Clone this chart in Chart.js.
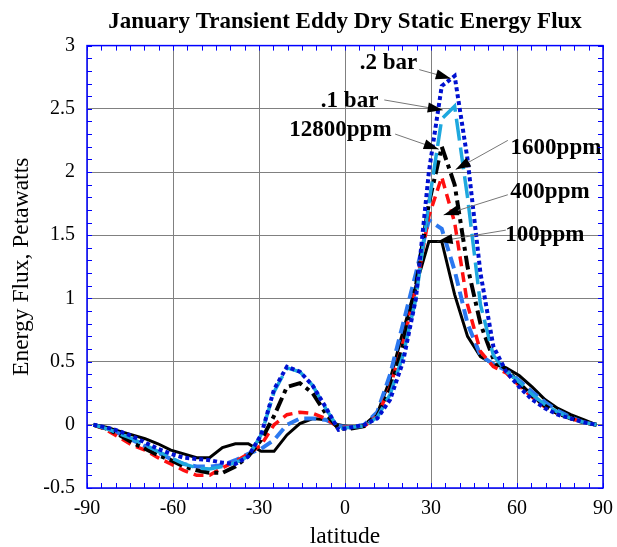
<!DOCTYPE html>
<html>
<head>
<meta charset="utf-8">
<script src="https://cdn.jsdelivr.net/npm/chart.js@4.4.1/dist/chart.umd.min.js"></script>
<style>
  html, body { margin: 0; padding: 0; background: #fff; }
  #wrap { width: 617px; height: 547px; }
</style>
</head>
<body>
<div id="wrap"><canvas id="flux"></canvas></div>
<script>
// latitude grid (degrees)
const latitudes = [
  -87.75, -83.25, -78.75, -74.25, -69.75, -65.25, -60.75, -56.25, -51.75, -47.25,
  -42.75, -38.25, -33.75, -29.25, -24.75, -20.25, -15.75, -11.25, -6.75, -2.25,
  2.25, 6.75, 11.25, 15.75, 20.25, 24.75, 29.25, 33.75, 38.25, 42.75,
  47.25, 51.75, 56.25, 60.75, 65.25, 69.75, 74.25, 78.75, 83.25, 87.75
];

// energy flux, petawatts
const ppm100 = [
  0, -0.02, -0.05, -0.08, -0.11, -0.15, -0.2, -0.23, -0.26, -0.26,
  -0.18, -0.15, -0.15, -0.21, -0.21, -0.08, 0.01, 0.05, 0.04, 0.0,
  -0.02, 0.0, 0.09, 0.36, 0.74, 1.1, 1.45, 1.45, 1.03, 0.7,
  0.54, 0.48, 0.45, 0.39, 0.3, 0.2, 0.13, 0.08, 0.04, 0.0
];
const ppm400 = [
  0, -0.03, -0.07, -0.12, -0.17, -0.22, -0.27, -0.31, -0.33, -0.33,
  -0.32, -0.28, -0.23, -0.19, -0.12, 0.0, 0.05, 0.05, 0.04, -0.01,
  -0.02, 0.0, 0.1, 0.4, 0.8, 1.2, 1.62, 1.55, 1.22, 0.8,
  0.55, 0.48, 0.43, 0.35, 0.26, 0.18, 0.11, 0.06, 0.02, 0.0
];
const ppm1600 = [
  0, -0.04, -0.1, -0.16, -0.2, -0.26, -0.31, -0.36, -0.4, -0.4,
  -0.34, -0.29, -0.23, -0.16, 0.0, 0.08, 0.1, 0.09, 0.05, -0.02,
  -0.02, -0.01, 0.07, 0.3, 0.65, 1.08, 1.65, 1.96, 1.6, 0.95,
  0.58, 0.46, 0.41, 0.31, 0.22, 0.14, 0.09, 0.05, 0.02, 0.0
];
const ppm12800 = [
  0, -0.03, -0.08, -0.14, -0.19, -0.24, -0.28, -0.33, -0.36, -0.38,
  -0.38, -0.33, -0.25, -0.12, 0.07, 0.3, 0.33, 0.25, 0.09, -0.03,
  -0.03, -0.01, 0.07, 0.28, 0.63, 1.1, 1.75, 2.2, 1.9, 1.25,
  0.8, 0.52, 0.44, 0.33, 0.23, 0.15, 0.09, 0.05, 0.02, 0.0
];
const bar01 = [
  0, -0.03, -0.07, -0.11, -0.16, -0.21, -0.26, -0.31, -0.34, -0.35,
  -0.33, -0.3, -0.25, -0.08, 0.26, 0.45, 0.42, 0.31, 0.13, -0.03,
  -0.02, -0.01, 0.06, 0.24, 0.55, 1.0, 1.75, 2.42, 2.52, 1.8,
  0.95, 0.55, 0.42, 0.34, 0.24, 0.16, 0.1, 0.05, 0.02, 0.0
];
const bar02 = [
  0, -0.02, -0.05, -0.09, -0.14, -0.19, -0.23, -0.26, -0.27, -0.28,
  -0.3, -0.31, -0.25, -0.08, 0.28, 0.46, 0.42, 0.31, 0.14, -0.04,
  -0.02, 0.0, 0.05, 0.2, 0.5, 1.0, 2.0, 2.68, 2.76, 2.1,
  1.2, 0.62, 0.42, 0.3, 0.2, 0.13, 0.08, 0.05, 0.02, 0.0
];

const seriesNames = ["100ppm", "400ppm", "1600ppm", "12800ppm", ".1 bar", ".2 bar"];

// callout labels: [text, label lat, label value, line start lat, value, arrow tip lat, value]
const callouts = [
  [".2 bar", 15.2, 2.86, 25.9, 2.81, 36.9, 2.74],
  [".1 bar", 1.6, 2.56, 13.7, 2.57, 34.1, 2.49],
  ["12800ppm", -1.6, 2.33, 17.5, 2.3, 32.7, 2.18],
  ["1600ppm", 73.6, 2.19, 56.8, 2.25, 38.6, 2.02],
  ["400ppm", 71.5, 1.84, 56.8, 1.82, 34.4, 1.66],
  ["100ppm", 69.7, 1.5, 56.1, 1.54, 32.3, 1.45]
];

const serif = "'Liberation Serif', 'DejaVu Serif', serif";

function pts(vals) {
  return latitudes.map((lat, i) => ({ x: lat, y: vals[i] }));
}

const framePlugin = {
  id: "frame",
  afterDraw(chart) {
    const { ctx, chartArea: a, scales: { x, y } } = chart;
    ctx.save();
    ctx.strokeStyle = "#0000ff";
    ctx.lineWidth = 1;
    ctx.beginPath();
    for (let v = -90; v <= 90; v += 5) {
      const px = Math.round(x.getPixelForValue(v)) + 0.5;
      ctx.moveTo(px, a.bottom); ctx.lineTo(px, a.bottom - 5);
      ctx.moveTo(px, a.top); ctx.lineTo(px, a.top + 5);
    }
    for (let i = -5; i <= 30; i++) {
      const py = Math.round(y.getPixelForValue(i / 10)) + 0.5;
      ctx.moveTo(a.left, py); ctx.lineTo(a.left + 5, py);
      ctx.moveTo(a.right, py); ctx.lineTo(a.right - 5, py);
    }
    ctx.stroke();
    ctx.lineWidth = 1.5;
    ctx.strokeRect(a.left, a.top, a.right - a.left, a.bottom - a.top);
    ctx.restore();
  }
};

const calloutPlugin = {
  id: "callouts",
  afterDatasetsDraw(chart) {
    const { ctx, scales: { x, y } } = chart;
    ctx.save();
    ctx.font = "bold 23px " + serif;
    ctx.textAlign = "center";
    ctx.textBaseline = "middle";
    callouts.forEach((c) => {
      const tx = x.getPixelForValue(c[1]), ty = y.getPixelForValue(c[2]);
      const sx = x.getPixelForValue(c[3]), sy = y.getPixelForValue(c[4]);
      const ex = x.getPixelForValue(c[5]), ey = y.getPixelForValue(c[6]);
      ctx.strokeStyle = "#777";
      ctx.lineWidth = 1;
      ctx.beginPath();
      ctx.moveTo(sx, sy);
      ctx.lineTo(ex, ey);
      ctx.stroke();
      const ang = Math.atan2(ey - sy, ex - sx);
      const len = 15, half = 5;
      const bx = ex - len * Math.cos(ang), by = ey - len * Math.sin(ang);
      ctx.fillStyle = "#000";
      ctx.beginPath();
      ctx.moveTo(ex, ey);
      ctx.lineTo(bx + half * Math.sin(ang), by - half * Math.cos(ang));
      ctx.lineTo(bx - half * Math.sin(ang), by + half * Math.cos(ang));
      ctx.closePath();
      ctx.fill();
      ctx.fillText(c[0], tx, ty);
    });
    ctx.restore();
  }
};

const styles = [
  { color: "#000000", dash: [], width: 3, order: 5 },
  { color: "#2b78f0", dash: [12, 6], width: 4, order: 4 },
  { color: "#ff1010", dash: [10, 6], width: 3.5, order: 3 },
  { color: "#000000", dash: [14, 5, 4, 5], width: 4, order: 2 },
  { color: "#1ea8de", dash: [22, 7], width: 3.5, order: 1 },
  { color: "#0010d0", dash: [4, 3], width: 4, order: 0 }
];
const seriesValues = [ppm100, ppm400, ppm1600, ppm12800, bar01, bar02];

new Chart(document.getElementById("flux"), {
  type: "line",
  data: {
    datasets: seriesValues.map((vals, i) => ({
      label: seriesNames[i],
      data: pts(vals),
      borderColor: styles[i].color,
      borderDash: styles[i].dash,
      borderWidth: styles[i].width,
      borderCapStyle: "butt",
      order: styles[i].order,
      pointRadius: 0,
      fill: false,
      tension: 0
    }))
  },
  options: {
    responsive: true,
    maintainAspectRatio: false,
    animation: false,
    layout: { padding: { left: 0, right: 0, top: 0, bottom: 0 } },
    plugins: {
      legend: { display: false },
      tooltip: { enabled: false },
      title: {
        display: true,
        fullSize: false,
        text: "January Transient Eddy Dry Static Energy Flux",
        color: "#000",
        font: { family: serif, size: 23, weight: "bold", lineHeight: 1.2 },
        padding: { top: 8, bottom: 10 }
      }
    },
    scales: {
      x: {
        type: "linear",
        min: -90,
        max: 90,
        afterFit: (s) => { s.height = 59; s.paddingLeft = 0; s.paddingRight = 14; },
        ticks: { stepSize: 30, color: "#000", padding: 9, maxRotation: 0, font: { family: serif, size: 20 } },
        grid: { color: "#808080", lineWidth: 1, drawTicks: false },
        border: { display: false },
        title: { display: true, text: "latitude", color: "#000", padding: { top: 0, bottom: -2 }, font: { family: serif, size: 23.5, lineHeight: 1 } }
      },
      y: {
        min: -0.5,
        max: 3,
        afterFit: (s) => { s.width = 87; },
        ticks: {
          stepSize: 0.5, color: "#000", padding: 12, font: { family: serif, size: 20 },
          callback: (v) => String(v)
        },
        grid: { color: "#808080", lineWidth: 1, drawTicks: false },
        border: { display: false },
        title: { display: true, text: "Energy Flux, Petawatts", color: "#000", padding: { top: 10, bottom: 0 }, font: { family: serif, size: 23.5, lineHeight: 1 } }
      }
    }
  },
  plugins: [framePlugin, calloutPlugin]
});
</script>
</body>
</html>
